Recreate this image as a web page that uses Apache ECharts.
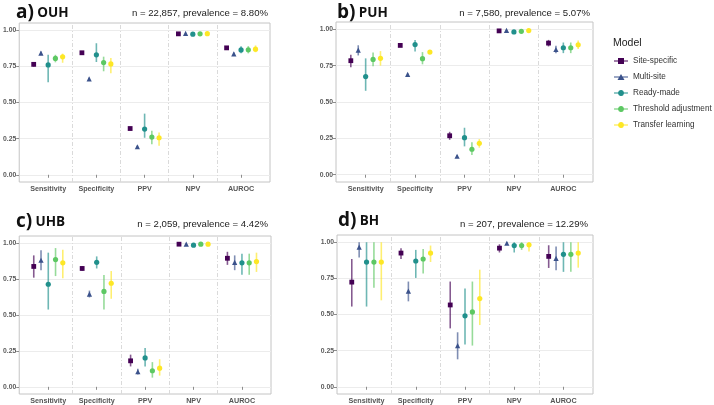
<!DOCTYPE html>
<html><head><meta charset="utf-8">
<script src="https://cdn.jsdelivr.net/npm/echarts@6/dist/echarts.min.js"></script>
<style>html,body{margin:0;padding:0;background:#fff}#c{width:714px;height:405px}</style>
</head><body><div id="c"></div><script>
const metrics = ['Sensitivity','Specificity','PPV','NPV','AUROC'];
const models = ['Site-specific','Multi-site','Ready-made','Threshold adjustment','Transfer learning'];
const modelColors = ['#440154','#3B528B','#21908C','#5DC863','#FDE725'];
const modelSymbols = ['rect','triangle','circle','circle','circle'];
const panelLetters = ['a)','b)','c)','d)'];
const panelSites = ['OUH','PUH','UHB','BH'];
const panelSubtitles = ['n = 22,857, prevalence = 8.80%','n = 7,580, prevalence = 5.07%','n = 2,059, prevalence = 4.42%','n = 207, prevalence = 12.29%'];
const yTicks = [0, 0.25, 0.5, 0.75, 1];
const xTicks = [1, 2, 3, 4, 5];
const separators = [1.5, 2.5, 3.5, 4.5];

// rows: models (Site-specific, Multi-site, Ready-made, Threshold adjustment, Transfer learning)
// columns: metrics (Sensitivity, Specificity, PPV, NPV, AUROC)
const OUH_est = [
 [0.764,0.844,0.320,0.975,0.878],
 [0.842,0.664,0.194,0.978,0.837],
 [0.760,0.830,0.316,0.973,0.864],
 [0.805,0.776,0.261,0.975,0.865],
 [0.816,0.767,0.256,0.976,0.869]];
const OUH_low = [
 [0.748,0.836,0.308,0.971,0.870],
 [0.832,0.657,0.187,0.975,0.828],
 [0.640,0.780,0.256,0.968,0.840],
 [0.778,0.716,0.211,0.970,0.840],
 [0.775,0.702,0.201,0.971,0.848]];
const OUH_high = [
 [0.780,0.852,0.332,0.979,0.886],
 [0.852,0.671,0.201,0.981,0.846],
 [0.830,0.910,0.423,0.978,0.890],
 [0.830,0.817,0.304,0.980,0.890],
 [0.838,0.808,0.293,0.981,0.895]];

const PUH_est = [
 [0.784,0.889,0.268,0.989,0.905],
 [0.857,0.690,0.127,0.993,0.861],
 [0.675,0.895,0.255,0.982,0.873],
 [0.793,0.798,0.175,0.986,0.873],
 [0.800,0.843,0.216,0.991,0.893]];
const PUH_low = [
 [0.739,0.880,0.240,0.986,0.882],
 [0.820,0.683,0.120,0.990,0.836],
 [0.577,0.848,0.195,0.978,0.836],
 [0.745,0.759,0.136,0.982,0.836],
 [0.750,0.836,0.186,0.988,0.864]];
const PUH_high = [
 [0.825,0.898,0.295,0.992,0.927],
 [0.890,0.697,0.134,0.996,0.886],
 [0.800,0.927,0.323,0.986,0.909],
 [0.840,0.843,0.223,0.990,0.909],
 [0.850,0.850,0.245,0.994,0.923]];

const UHB_est = [
 [0.838,0.824,0.181,0.993,0.895],
 [0.881,0.645,0.105,0.993,0.867],
 [0.714,0.867,0.201,0.986,0.863],
 [0.886,0.664,0.112,0.993,0.863],
 [0.863,0.721,0.130,0.993,0.872]];
const UHB_low = [
 [0.760,0.808,0.142,0.989,0.849],
 [0.812,0.622,0.085,0.989,0.812],
 [0.538,0.824,0.142,0.981,0.780],
 [0.771,0.538,0.064,0.989,0.780],
 [0.755,0.613,0.078,0.989,0.800]];
const UHB_high = [
 [0.915,0.842,0.224,0.997,0.940],
 [0.950,0.670,0.126,0.997,0.915],
 [0.934,0.908,0.270,0.991,0.927],
 [0.966,0.778,0.172,0.997,0.927],
 [0.954,0.806,0.192,0.997,0.934]];

const BH_est = [
 [0.724,0.925,0.566,0.959,0.902],
 [0.966,0.662,0.285,0.993,0.888],
 [0.863,0.870,0.491,0.977,0.916],
 [0.863,0.884,0.518,0.977,0.916],
 [0.863,0.925,0.610,0.982,0.925]];
const BH_low = [
 [0.555,0.884,0.404,0.929,0.822],
 [0.895,0.591,0.190,0.984,0.806],
 [0.555,0.753,0.292,0.929,0.795],
 [0.685,0.783,0.285,0.947,0.795],
 [0.598,0.863,0.427,0.936,0.824]];
const BH_high = [
 [0.884,0.959,0.728,0.986,0.979],
 [1.000,0.728,0.377,1.000,0.970],
 [1.000,0.947,0.680,1.000,1.000],
 [1.000,0.954,0.728,1.000,1.000],
 [1.000,0.977,0.810,1.000,1.000]];

const panelEst = [OUH_est, PUH_est, UHB_est, BH_est];
const panelLow = [OUH_low, PUH_low, UHB_low, BH_low];
const panelHigh = [OUH_high, PUH_high, UHB_high, BH_high];

// layout
const grids = [
  {left:16, top:23, width:254, height:159},
  {left:336, top:22, width:257, height:160},
  {left:16, top:236, width:255, height:158},
  {left:337, top:235, width:256, height:161}
];
const titlePos = [[16,13,268,13],[337,13,590,13],[16,222,268,224],[338,221,588,224]];
const dodge = 0.15;

const circleIcon = 'path://M0,2.5H4.04A3,3 0 0 1 9.96,2.5H14V3.5H9.96A3,3 0 0 1 4.04,3.5H0Z';
const legendIcons = [
  'path://M0,2.5H4V0H10V2.5H14V3.5H10V6H4V3.5H0Z',
  'path://M0,2.5H5.54L7,0L8.46,2.5H14V3.5H9.04L10.5,6H3.5L4.96,3.5H0Z',
  circleIcon, circleIcon, circleIcon
];

const xAxes = [], yAxes = [], series = [], graphics = [];
grids.forEach((g, p) => {
  xAxes.push({
    gridIndex:p, type:'value', min:0.4, max:5.6,
    axisLine:{show:false}, splitLine:{show:false},
    axisTick:{show:true, customValues:xTicks, length:3, lineStyle:{color:'#8c8c8c', width:1}},
    axisLabel:{customValues:xTicks, formatter:v => metrics[Math.round(v)-1] || '', fontSize:7.2, fontWeight:'bold', color:'#555', margin:4, fontFamily:'Liberation Sans'}
  });
  yAxes.push({
    gridIndex:p, type:'value', min:-0.05, max:1.05,
    axisLine:{show:false},
    axisTick:{show:true, customValues:yTicks, length:3, lineStyle:{color:'#8c8c8c', width:1}},
    axisLabel:{customValues:yTicks, formatter:v => v.toFixed(2), fontSize:6.8, fontWeight:'bold', color:'#5a5a5a', margin:3, fontFamily:'Liberation Sans'},
    splitLine:{show:true, lineStyle:{color:'#ececec', width:1}}
  });
  models.forEach((m, k) => {
    const off = (k - 2) * dodge;
    const barData = metrics.map((_, j) => [j + 1 + off, panelLow[p][k][j], panelHigh[p][k][j]]);
    const ptData = metrics.map((_, j) => [j + 1 + off, panelEst[p][k][j]]);
    const s = {
      type:'custom', name:m + ' range', xAxisIndex:p, yAxisIndex:p, data:barData, silent:true,
      encode:{x:0, y:[1,2]}, z:2,
      renderItem:(params, api) => {
        const a = api.coord([api.value(0), api.value(1)]);
        const b = api.coord([api.value(0), api.value(2)]);
        return {type:'line', shape:{x1:a[0], y1:a[1], x2:b[0], y2:b[1]},
          style:{stroke:modelColors[k], lineWidth:1.6, opacity:0.65}};
      }
    };
    if (k === 0) {
      s.markLine = {silent:true, symbol:'none', label:{show:false},
        lineStyle:{type:[4,2,1,2], color:'#dadada', width:1},
        data:separators.map(x => ({xAxis:x}))};
    }
    series.push(s);
    series.push({
      type:'scatter', name:m, xAxisIndex:p, yAxisIndex:p, data:ptData, z:3,
      symbol:modelSymbols[k], symbolSize:modelSymbols[k]==='rect'?4.8:5.2,
      itemStyle:{color:modelColors[k], opacity:1}
    });
  });
  const t = titlePos[p];
  graphics.push({type:'text', x:t[0], y:t[1], style:{
    text:'{l|' + panelLetters[p] + '} {s|' + panelSites[p] + '}',
    rich:{l:{fontSize:19, fontWeight:'bold', fontFamily:'Open Sans', fill:'#111'},
          s:{fontSize:13.5, fontWeight:'bold', fontFamily:'Open Sans', fill:'#111'}},
    verticalAlign:'middle', align:'left'}});
  graphics.push({type:'text', x:t[2], y:t[3], style:{
    text:panelSubtitles[p], fontSize:9.6, fontFamily:'Liberation Sans', fill:'#222',
    align:'right', verticalAlign:'middle'}});
});
graphics.push({type:'text', x:613, y:43, style:{text:'Model', fontSize:10.5, fontFamily:'Liberation Sans', fill:'#222', verticalAlign:'middle'}});

const chart = echarts.init(document.getElementById('c'), null, {renderer:'canvas'});
chart.setOption({
  animation:false,
  backgroundColor:'#fff',
  grid:grids.map(g => Object.assign({show:true, borderColor:'#c4c4c4', borderWidth:1, backgroundColor:'transparent', containLabel:false}, g)),
  xAxis:xAxes, yAxis:yAxes,
  legend:{orient:'vertical', left:614, top:56, padding:0, itemWidth:14, itemHeight:6, itemGap:6, selectedMode:false,
    textStyle:{fontSize:8.2, lineHeight:10, color:'#333', fontFamily:'Liberation Sans'},
    data:models.map((m, k) => ({name:m, icon:legendIcons[k]}))},
  graphic:graphics,
  series:series
});
</script></body></html>
